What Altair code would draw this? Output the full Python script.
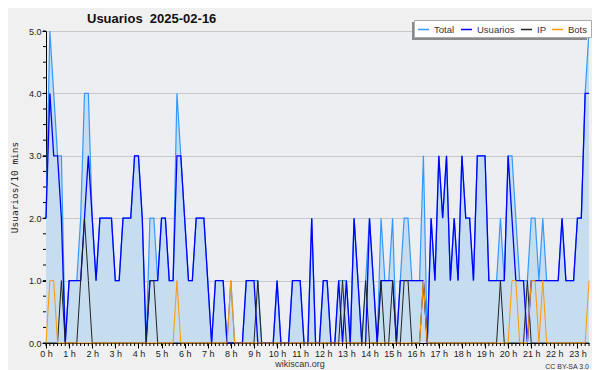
import json
import altair as alt
import pandas as pd

# 10-minute slots, 00:00 .. 23:30
slots = list(range(142))

usuarios = [2, 4, 3, 3, 2, 0, 1, 1, 1, 1,
            2, 3, 2, 1, 2, 2, 2, 2, 1, 1,
            2, 2, 2, 3, 3, 2, 0, 1, 1, 1,
            2, 2, 1, 1, 3, 3, 2, 1, 1, 2,
            2, 2, 1, 0, 1, 1, 1, 0, 0, 0,
            0, 0, 1, 1, 1, 0, 0, 0, 0, 0,
            1, 0, 0, 0, 1, 1, 1, 0, 0, 2,
            0, 0, 1, 1, 0, 0, 1, 0, 1, 0,
            2, 1, 0, 0, 2, 1, 0, 1, 1, 1,
            1, 0, 1, 1, 1, 1, 1, 1, 1, 0,
            2, 1, 3, 2, 3, 1, 2, 1, 3, 2,
            2, 1, 3, 3, 3, 1, 1, 1, 1, 1,
            3, 2, 1, 1, 1, 0, 1, 1, 1, 1,
            1, 1, 1, 1, 2, 1, 1, 1, 2, 2,
            4, 4]

ip = [0, 0, 0, 0, 1, 0, 0, 0, 0, 1,
      2, 1, 0, 0, 0, 0, 0, 0, 0, 0,
      0, 0, 0, 0, 0, 0, 0, 1, 1, 0,
      0, 0, 0, 0, 0, 0, 0, 0, 0, 0,
      0, 0, 0, 0, 0, 0, 0, 0, 0, 0,
      0, 0, 0, 0, 0, 1, 0, 0, 0, 0,
      0, 0, 0, 0, 0, 0, 0, 0, 0, 0,
      0, 0, 0, 0, 0, 0, 0, 1, 0, 0,
      0, 0, 0, 1, 0, 0, 0, 1, 0, 0,
      1, 0, 0, 1, 1, 0, 0, 0, 1, 0,
      0, 0, 0, 0, 0, 0, 0, 0, 0, 0,
      0, 0, 0, 0, 0, 0, 0, 0, 1, 0,
      0, 0, 0, 0, 0, 1, 0, 0, 0, 0,
      0, 0, 0, 0, 0, 0, 0, 0, 0, 0,
      0, 0]

bots = [0, 1, 1, 0, 0, 0, 0, 0, 0, 0,
        0, 0, 0, 0, 0, 0, 0, 0, 0, 0,
        0, 0, 0, 0, 0, 0, 0, 0, 0, 0,
        0, 0, 0, 0, 1, 0, 0, 0, 0, 0,
        0, 0, 0, 0, 0, 0, 0, 0, 1, 0,
        0, 0, 0, 0, 0, 0, 0, 0, 0, 0,
        0, 0, 0, 0, 0, 0, 0, 0, 0, 0,
        0, 0, 0, 0, 0, 0, 0, 0, 0, 0,
        0, 0, 0, 0, 0, 0, 0, 0, 0, 0,
        0, 0, 0, 0, 0, 0, 0, 0, 1, 0,
        0, 0, 0, 0, 0, 0, 0, 0, 0, 0,
        0, 0, 0, 0, 0, 0, 0, 0, 0, 0,
        0, 1, 1, 0, 0, 0, 1, 1, 0, 1,
        0, 0, 0, 0, 0, 0, 0, 0, 0, 0,
        0, 1]

total = [2, 5, 4, 3, 3, 0, 1, 1, 1, 2,
         4, 4, 2, 1, 2, 2, 2, 2, 1, 1,
         2, 2, 2, 3, 3, 2, 0, 2, 2, 1,
         2, 2, 1, 1, 4, 3, 2, 1, 1, 2,
         2, 2, 1, 0, 1, 1, 1, 0, 1, 0,
         0, 0, 1, 1, 1, 1, 0, 0, 0, 0,
         1, 0, 0, 0, 1, 1, 1, 0, 0, 2,
         0, 0, 1, 1, 0, 0, 1, 1, 1, 0,
         2, 1, 0, 1, 2, 1, 0, 2, 1, 1,
         2, 0, 1, 2, 2, 1, 1, 1, 3, 0,
         2, 1, 3, 2, 3, 1, 2, 1, 3, 2,
         2, 1, 3, 3, 3, 1, 1, 1, 2, 1,
         3, 3, 2, 1, 1, 1, 2, 2, 1, 2,
         1, 1, 1, 1, 2, 1, 1, 1, 2, 2,
         4, 5]

hour_labels = [f"{h} h" for h in range(24)]
hour_slots = [h * 6 for h in range(24)]
y_ticks = [0, 1, 2, 3, 4, 5]
y_minor = [k / 4 for k in range(21)]

series_names = ["Total", "Usuarios", "IP", "Bots"]
series_colors = ["#3399ff", "#0000ff", "#222222", "#ff9900"]
series_values = [total, usuarios, ip, bots]
series_widths = [1.2, 1.3, 1.0, 1.0]

title_text = "Usuarios\u00a0 2025-02-16"
y_title = "Usuarios/10 mins"
site_text = "wikiscan.org"
license_text = "CC BY-SA 3.0"

W, H = 543, 312
FONT = "Liberation Sans"

xscale = alt.Scale(domain=[0, 141], nice=False, zero=False)
yscale = alt.Scale(domain=[0, 5], nice=False, zero=True)
cscale = alt.Scale(domain=series_names, range=series_colors)

label_expr = json.dumps(hour_labels) + "[round(datum.value / 6)]"

x_axis = alt.Axis(values=hour_slots, labelExpr=label_expr, title=None,
                  grid=False, tickSize=5, labelPadding=1,
                  labelFont=FONT, labelFontSize=9, labelColor="#222",
                  domainColor="#000", tickColor="#000", labelFlush=False)
y_axis = alt.Axis(values=y_ticks, format=".1f", title=y_title,
                  tickSize=4, labelPadding=1, labelFont=FONT,
                  labelFontSize=9, labelColor="#222",
                  grid=True, gridColor="#c8c8c8", gridWidth=1,
                  domainColor="#000", tickColor="#000",
                  titleFont="DejaVu Sans Mono", titleFontSize=9.5,
                  titleFontWeight="normal", titleColor="#222",
                  titleAngle=270, titleX=-32, titleY=156,
                  titleAlign="center", titleBaseline="middle")

df_total = pd.DataFrame({"slot": slots, "value": total})

area = alt.Chart(df_total).mark_area(color="#c6dcef", opacity=1).encode(
    x=alt.X("slot:Q", scale=xscale, axis=x_axis),
    y=alt.Y("value:Q", scale=yscale, axis=y_axis),
)

# shadow behind the legend box
shadow = alt.Chart(pd.DataFrame({"k": [0]})).mark_rect(color="#8a8a8a").encode(
    x=alt.value(366), x2=alt.value(541), y=alt.value(-9), y2=alt.value(9),
)

layers = [area]
for k, (name, vals, sw) in enumerate(zip(series_names, series_values, series_widths)):
    d = pd.DataFrame({"slot": slots, "value": vals, "series": name})
    legend = None
    if k == 0:
        legend = alt.Legend(orient="none", legendX=368, legendY=-11,
                            direction="horizontal", title=None,
                            symbolType="stroke", symbolSize=121,
                            symbolStrokeWidth=1.5, labelFont=FONT,
                            labelFontSize=9.5, labelColor="#333",
                            fillColor="white", strokeColor="#aaa",
                            padding=3, columnPadding=3, labelOffset=4)
    line = alt.Chart(d).mark_line(strokeWidth=sw).encode(
        x=alt.X("slot:Q", scale=xscale, axis=x_axis),
        y=alt.Y("value:Q", scale=yscale, axis=y_axis),
        color=alt.Color("series:N", scale=cscale, legend=legend),
    )
    layers.append(line)

yminor = alt.Chart(pd.DataFrame({"value": y_minor})).mark_rule(color="#000", strokeWidth=1).encode(
    y=alt.Y("value:Q", scale=yscale, axis=y_axis),
    x=alt.value(-3), x2=alt.value(0),
)
xminor = alt.Chart(pd.DataFrame({"slot": slots})).mark_rule(color="#000", strokeWidth=1).encode(
    x=alt.X("slot:Q", scale=xscale, axis=x_axis),
    y=alt.value(H), y2=alt.value(H + 3),
)

title = alt.Chart(pd.DataFrame({"t": [title_text]})).mark_text(
    align="left", baseline="alphabetic", font=FONT, fontWeight="bold",
    fontSize=13, color="#111").encode(x=alt.value(41), y=alt.value(-8), text="t:N")
site = alt.Chart(pd.DataFrame({"t": [site_text]})).mark_text(
    align="center", baseline="alphabetic", font=FONT, fontSize=9,
    color="#333").encode(x=alt.value(254), y=alt.value(335.5), text="t:N")
lic = alt.Chart(pd.DataFrame({"t": [license_text]})).mark_text(
    align="right", baseline="alphabetic", font=FONT, fontSize=7,
    color="#333").encode(x=alt.value(543), y=alt.value(337.5), text="t:N")

chart = alt.layer(*layers, yminor, xminor, shadow, title, site, lic).properties(
    width=W, height=H,
    padding={"left": 38, "top": 23, "right": 3, "bottom": 27},
    autosize=alt.AutoSizeParams(type="none"),
    background="#f0f0f0",
).configure_view(fill="#eceef1", stroke=None)

chart.save("out.html", embed_options={"renderer": "svg", "actions": False})
